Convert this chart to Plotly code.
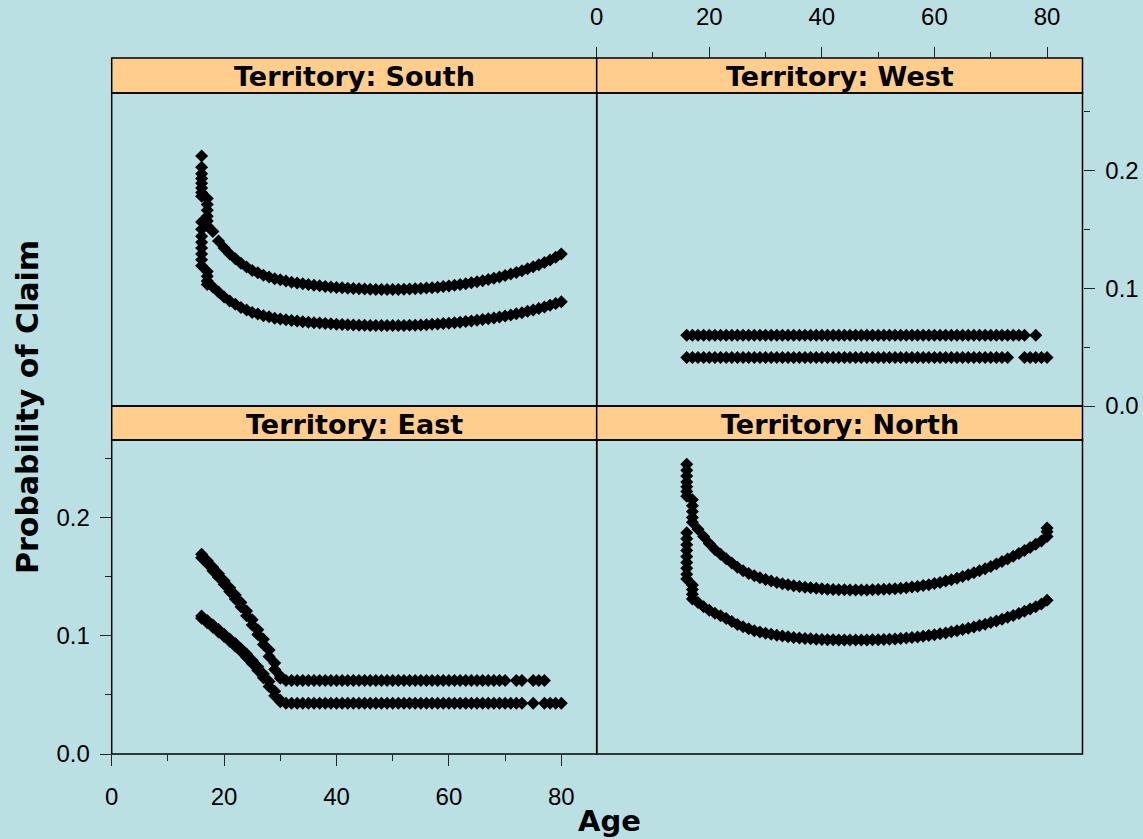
import plotly.graph_objects as go

# ---------------- data ----------------
AGES_MAIN = list(range(18, 81))

# South
south_hi_age_young = [16] * 8 + [17] * 6
south_hi_young = [0.212, 0.2025, 0.197, 0.193, 0.189, 0.185, 0.181, 0.178,
                  0.176, 0.171, 0.166, 0.161, 0.157, 0.153]
south_lo_age_young = [16] * 8 + [17] * 4
south_lo_young = [0.156, 0.150, 0.144, 0.139, 0.134, 0.129, 0.124, 0.119,
                  0.114, 0.110, 0.106, 0.103]
south_hi = [0.148, 0.140, 0.134, 0.129, 0.125, 0.121, 0.118, 0.115, 0.113, 0.111,
            0.1095, 0.108, 0.107, 0.106, 0.105, 0.1043, 0.1036, 0.1030, 0.1024, 0.1019,
            0.1014, 0.1010, 0.1006, 0.1002, 0.0999, 0.0996, 0.0994, 0.0992, 0.0990, 0.0989,
            0.0988, 0.0988, 0.0988, 0.0989, 0.0990, 0.0992, 0.0994, 0.0997, 0.1000, 0.1004,
            0.1008, 0.1013, 0.1018, 0.1024, 0.1030, 0.1037, 0.1045, 0.1053, 0.1062, 0.1072,
            0.1083, 0.1094, 0.1106, 0.1119, 0.1133, 0.1148, 0.1164, 0.1181, 0.1199, 0.1218,
            0.1238, 0.1262, 0.1290]
south_lo = [0.101, 0.0966, 0.0925, 0.089, 0.0863, 0.0835, 0.0814, 0.0794, 0.078, 0.0766,
            0.0756, 0.0745, 0.0738, 0.0731, 0.0725, 0.0720, 0.0715, 0.0711, 0.0707, 0.0703,
            0.0700, 0.0697, 0.0694, 0.0691, 0.0689, 0.0687, 0.0686, 0.0684, 0.0683, 0.0682,
            0.0682, 0.0682, 0.0682, 0.0682, 0.0683, 0.0684, 0.0686, 0.0688, 0.0690, 0.0693,
            0.0696, 0.0699, 0.0702, 0.0707, 0.0711, 0.0716, 0.0721, 0.0727, 0.0733, 0.0740,
            0.0747, 0.0755, 0.0763, 0.0772, 0.0782, 0.0792, 0.0803, 0.0815, 0.0827, 0.0840,
            0.0854, 0.0869, 0.0885]

# North
north_hi_age_young = [16] * 7 + [17] * 5
north_hi_young = [0.245, 0.240, 0.235, 0.230, 0.226, 0.222, 0.218,
                  0.215, 0.210, 0.205, 0.200, 0.196]
north_lo_age_young = [16] * 9 + [17] * 4
north_lo_young = [0.187, 0.182, 0.177, 0.172, 0.167, 0.162, 0.157, 0.152, 0.148,
                  0.143, 0.139, 0.135, 0.131]
north_hi = [0.190, 0.184, 0.178, 0.173, 0.169, 0.165, 0.1615, 0.158, 0.155, 0.1527,
            0.1507, 0.1490, 0.1475, 0.1462, 0.1450, 0.1440, 0.1431, 0.1423, 0.1416, 0.1410,
            0.1405, 0.1401, 0.1397, 0.1394, 0.1391, 0.1389, 0.1388, 0.1387, 0.1386, 0.1386,
            0.1387, 0.1388, 0.1390, 0.1392, 0.1395, 0.1398, 0.1402, 0.1406, 0.1411, 0.1417,
            0.1424, 0.1432, 0.1441, 0.1451, 0.1462, 0.1474, 0.1487, 0.1501, 0.1516, 0.1532,
            0.1549, 0.1567, 0.1586, 0.1606, 0.1627, 0.1649, 0.1672, 0.1696, 0.1721, 0.1747,
            0.1774, 0.1802, 0.1840]
north_hi_age_old = [80, 80]
north_hi_old = [0.188, 0.191]
north_lo = [0.128, 0.1245, 0.1215, 0.119, 0.1168, 0.1145, 0.112, 0.1095, 0.1075, 0.1058,
            0.1043, 0.1031, 0.1021, 0.1012, 0.1004, 0.0997, 0.0991, 0.0986, 0.0981, 0.0977,
            0.0974, 0.0971, 0.0969, 0.0967, 0.0965, 0.0964, 0.0963, 0.0963, 0.0963, 0.0963,
            0.0964, 0.0965, 0.0966, 0.0968, 0.0970, 0.0973, 0.0976, 0.0980, 0.0984, 0.0989,
            0.0995, 0.1001, 0.1008, 0.1016, 0.1024, 0.1033, 0.1043, 0.1053, 0.1063, 0.1074,
            0.1086, 0.1098, 0.1111, 0.1125, 0.1140, 0.1156, 0.1172, 0.1189, 0.1207, 0.1226,
            0.1246, 0.1268, 0.1300]

# East (ages 16-30 carry two stacked values each)
east_decline_age = list(range(16, 31))
east_hi_decline = [0.169, 0.1635, 0.158, 0.1525, 0.1465, 0.1405, 0.1345, 0.128,
                   0.121, 0.1135, 0.105, 0.097, 0.088, 0.077, 0.066]
east_hi_decline_b = [0.166, 0.161, 0.155, 0.1495, 0.1435, 0.1375, 0.131, 0.1245,
                     0.117, 0.109, 0.101, 0.0925, 0.0825, 0.0715, 0.0640]
east_hi_flat_age = list(range(31, 71)) + [72, 73, 75, 76, 77]
east_hi_flat = 0.0621
east_lo_decline = [0.1166, 0.1128, 0.109, 0.1052, 0.1013, 0.0973, 0.0935, 0.089,
                   0.0845, 0.0792, 0.0737, 0.0677, 0.0612, 0.053, 0.0455]
east_lo_decline_b = [0.1147, 0.1109, 0.1071, 0.1032, 0.0993, 0.0954, 0.0912, 0.0868,
                     0.0818, 0.0765, 0.0707, 0.0645, 0.0571, 0.0492, 0.0442]
east_lo_flat_age = list(range(31, 74)) + [75, 77, 78, 79, 80]
east_lo_flat = 0.0429

# West
west_hi_age = list(range(16, 77)) + [78]
west_hi_level = 0.0600
west_lo_age = list(range(16, 74)) + [76, 77, 78, 79, 80]
west_lo_level = 0.0412

X_TICKS = [0, 20, 40, 60, 80]
X_MINOR = [10, 30, 50, 70]
Y_TICKS = [0.0, 0.1, 0.2]
Y_TICK_TEXT = ["0.0", "0.1", "0.2"]
Y_MINOR = [0.05, 0.15, 0.25]

# ---------------- geometry / style ----------------
W, H = 1143, 839
BG = "#BBE0E4"
STRIP = "#FFCE8C"
XL0, XM, XR1 = 111.7, 596.7, 1082.5
ST1, PT1, PB1 = 58, 93, 406
ST2, PT2, PB2 = 406, 440, 754
XRANGE = [0, 86.3]
YRANGE = [0, 0.2655]


def fx(px):
    return px / W


def fy(py):
    return 1 - py / H


marker = dict(symbol="diamond", size=10, color="black", line=dict(width=0))


def pts(x, y, ax):
    return go.Scatter(x=x, y=y, mode="markers", marker=marker, xaxis="x" + ax,
                      yaxis="y" + ax, showlegend=False, hoverinfo="skip")


traces = [
    # East -> axis 1
    pts(east_decline_age + east_decline_age + east_hi_flat_age,
        east_hi_decline + east_hi_decline_b + [east_hi_flat] * len(east_hi_flat_age), ""),
    pts(east_decline_age + east_decline_age + east_lo_flat_age,
        east_lo_decline + east_lo_decline_b + [east_lo_flat] * len(east_lo_flat_age), ""),
    # North -> axis 2
    pts(north_hi_age_young + AGES_MAIN + north_hi_age_old,
        north_hi_young + north_hi + north_hi_old, "2"),
    pts(north_lo_age_young + AGES_MAIN, north_lo_young + north_lo, "2"),
    # South -> axis 3
    pts(south_hi_age_young + AGES_MAIN, south_hi_young + south_hi, "3"),
    pts(south_lo_age_young + AGES_MAIN, south_lo_young + south_lo, "3"),
    # West -> axis 4
    pts(west_hi_age, [west_hi_level] * len(west_hi_age), "4"),
    pts(west_lo_age, [west_lo_level] * len(west_lo_age), "4"),
]

fig = go.Figure(traces)

TICKFONT = dict(family="Liberation Sans, Arial, sans-serif", size=24, color="black")
TICKCOL = "#222222"

hidden = dict(showgrid=False, zeroline=False, showline=False, ticks="",
              showticklabels=False, fixedrange=True, automargin=False)


def xticked(**kw):
    d = dict(showgrid=False, zeroline=False, showline=False, ticks="outside",
             ticklen=11, tickwidth=1.3, tickcolor=TICKCOL, tickmode="array",
             tickvals=X_TICKS, tickfont=TICKFONT, range=XRANGE, fixedrange=True,
             automargin=False,
             minor=dict(ticks="outside", ticklen=6, tickwidth=1.3, tickcolor=TICKCOL,
                        tickmode="array", tickvals=X_MINOR))
    d.update(kw)
    return d


def yticked(**kw):
    d = dict(showgrid=False, zeroline=False, showline=False, ticks="outside",
             ticklen=11, tickwidth=1.3, tickcolor=TICKCOL, tickmode="array",
             tickvals=Y_TICKS, ticktext=Y_TICK_TEXT, tickfont=TICKFONT, range=YRANGE,
             fixedrange=True, automargin=False,
             minor=dict(ticks="outside", ticklen=6, tickwidth=1.3, tickcolor=TICKCOL,
                        tickmode="array", tickvals=Y_MINOR))
    d.update(kw)
    return d


fig.update_layout(
    width=W, height=H, autosize=False,
    margin=dict(l=0, r=0, t=0, b=0, pad=0, autoexpand=False),
    paper_bgcolor=BG, plot_bgcolor=BG,
    xaxis=xticked(domain=[fx(XL0), fx(XM)], anchor="y", ticklabelstandoff=10),
    yaxis=yticked(domain=[fy(PB2), fy(PT2)], anchor="x", ticklabelstandoff=5),
    xaxis2=dict(hidden, domain=[fx(XM), fx(XR1)], anchor="y2", range=XRANGE),
    yaxis2=dict(hidden, domain=[fy(PB2), fy(PT2)], anchor="x2", range=YRANGE),
    xaxis3=dict(hidden, domain=[fx(XL0), fx(XM)], anchor="y3", range=XRANGE),
    yaxis3=dict(hidden, domain=[fy(PB1), fy(PT1)], anchor="x3", range=YRANGE),
    xaxis4=xticked(domain=[fx(XM), fx(XR1)], anchor="free", position=fy(ST1),
                   side="top", ticklabelstandoff=12),
    yaxis4=yticked(domain=[fy(PB1), fy(PT1)], anchor="x4", side="right",
                   ticklabelstandoff=6),
)

shapes = []
# strips
for (x0, x1, y0, y1) in [(XL0, XM, ST1, PT1), (XM, XR1, ST1, PT1),
                         (XL0, XM, ST2, PT2), (XM, XR1, ST2, PT2)]:
    shapes.append(dict(type="rect", xref="paper", yref="paper", x0=fx(x0), x1=fx(x1),
                       y0=fy(y1), y1=fy(y0), fillcolor=STRIP,
                       line=dict(color="black", width=1.5), layer="above"))
# panel borders
for (x0, x1, y0, y1) in [(XL0, XM, PT1, PB1), (XM, XR1, PT1, PB1),
                         (XL0, XM, PT2, PB2), (XM, XR1, PT2, PB2)]:
    shapes.append(dict(type="rect", xref="paper", yref="paper", x0=fx(x0), x1=fx(x1),
                       y0=fy(y1), y1=fy(y0), line=dict(color="black", width=1.5),
                       layer="above"))
fig.update_layout(shapes=shapes)

STRIPFONT = dict(family="DejaVu Sans, sans-serif", size=27, color="black")
annotations = []
for label, x0, x1, y0, y1 in [("Territory: South", XL0, XM, ST1, PT1),
                              ("Territory: West", XM, XR1, ST1, PT1),
                              ("Territory: East", XL0, XM, ST2, PT2),
                              ("Territory: North", XM, XR1, ST2, PT2)]:
    annotations.append(dict(text="<b>" + label + "</b>", xref="paper", yref="paper",
                            x=fx((x0 + x1) / 2), y=fy((y0 + y1) / 2 + 1),
                            xanchor="center", yanchor="middle", showarrow=False,
                            font=STRIPFONT))
annotations.append(dict(text="<b>Age</b>", xref="paper", yref="paper",
                        x=fx(609), y=fy(821), xanchor="center", yanchor="middle",
                        showarrow=False,
                        font=dict(family="DejaVu Sans, sans-serif", size=29,
                                  color="black")))
annotations.append(dict(text="<b>Probability of Claim</b>", xref="paper", yref="paper",
                        x=fx(28), y=fy(407), xanchor="center", yanchor="middle",
                        textangle=-90, showarrow=False,
                        font=dict(family="DejaVu Sans, sans-serif", size=30,
                                  color="black")))
fig.update_layout(annotations=annotations)

fig.write_html("out.html", config={"displayModeBar": False},
               post_script="document.body.style.margin='0px';"
                           "document.body.style.overflow='hidden';")
